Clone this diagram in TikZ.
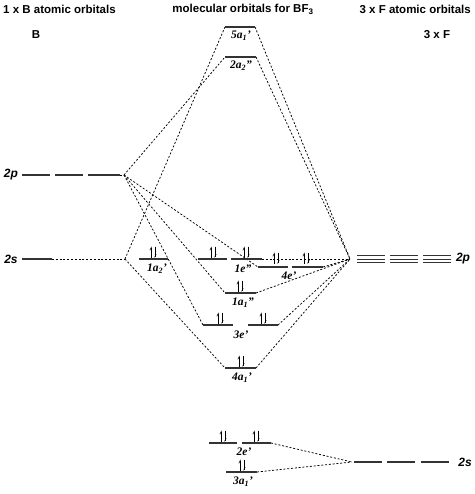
\documentclass[tikz,border=0pt]{standalone}
\usepackage{fontspec}
\setmainfont{Liberation Serif}
\setsansfont{Liberation Sans}
\usetikzlibrary{arrows.meta}
\newcommand\mo[3]{#1\textsubscript{#2}#3}
\tikzset{
  level/.style={
    line width=1.1pt,
    black!80
  },
  link/.style={
    line width=0.75pt,
    dash pattern=on 2pt off 1.8pt
  },
  head/.style={
    font=\sffamily\bfseries\fontsize{11.5}{13}\selectfont,
    inner sep=0pt
  },
  aolabel/.style={
    font=\sffamily\bfseries\itshape\fontsize{12}{14}\selectfont,
    inner sep=0pt
  },
  molabel/.style={
    font=\bfseries\itshape\fontsize{11.5}{13}\selectfont,
    inner sep=0pt
  },
}
\tikzset{
  pics/pair/.style={
    code = {
      \draw[line width=0.6pt,-{Straight Barb[left,length=2.6pt,width=2.8pt]}] (-1.8,-1) -- (-1.8,-12.5);
      \draw[line width=0.6pt,-{Straight Barb[left,length=2.6pt,width=2.8pt]}] (1.8,-12.5) -- (1.8,-1);
    }
  }
}

\begin{document}
\begin{tikzpicture}[x=1pt,y=-1pt]
  \useasboundingbox (0,0) rectangle (474,494);

  % headings
  \node[head,anchor=west] (tB) at (3,9) {1 x B atomic orbitals};
  \node[head] (tMO) at (243,9) {molecular orbitals for BF\textsubscript{3}};
  \node[head,anchor=east] (tF) at (471,9) {3 x F atomic orbitals};
  \node[head] (lB) at (36,35) {B};
  \node[head] (lF) at (437,35) {3 x F};

  % B atomic orbitals
  \node[aolabel] (Bplab) at (11,175) {2p};
  \node[aolabel] (Bslab) at (11,259) {2s};
  \foreach \xa/\xb in {22/50,55/83,88/120}
    \draw[level] (\xa,175) -- (\xb,175);
  \draw[level] (22,259) -- (52,259);
  \coordinate (Bp) at (124,175);
  \coordinate (Bs) at (125,259);
  \draw[link] (120,175) -- (Bp);
  \draw[link] (52,259) -- (Bs);

  % F atomic orbitals
  \node[aolabel] (Fplab) at (463,259) {2p};
  \node[aolabel] (Fslab) at (465,462) {2s};
  \foreach \xa/\xb in {357/385,390/418,423/451}
    \foreach \dy in {-3.5,0,3.5}
      \draw[level,line width=0.8pt] (\xa,{259+\dy}) -- (\xb,{259+\dy});
  \foreach \xa/\xb in {354/382,387/415,421/449}
    \draw[level] (\xa,462) -- (\xb,462);
  \coordinate (Fp) at (350,259);
  \coordinate (Fs) at (352,462);

  % molecular orbitals
  \coordinate (a5l) at (225,27);   \coordinate (a5r) at (255,27);
  \coordinate (b2l) at (225,57);   \coordinate (b2r) at (256,57);
  \coordinate (c1l) at (139,259);  \coordinate (c1r) at (168,259);
  \coordinate (d1l) at (198,259);  \coordinate (d1m) at (227,259);
  \coordinate (d1n) at (231,259);  \coordinate (d1r) at (262,259);
  \coordinate (e4l) at (258,267);  \coordinate (e4m) at (288,267);
  \coordinate (e4n) at (292,267);  \coordinate (e4r) at (323,267);
  \coordinate (f1l) at (225,293);  \coordinate (f1r) at (256,293);
  \coordinate (g3l) at (203,325);  \coordinate (g3m) at (233,325);
  \coordinate (g3n) at (248,325);  \coordinate (g3r) at (278,325);
  \coordinate (h4l) at (225,368);  \coordinate (h4r) at (256,368);
  \coordinate (i2l) at (209,443);  \coordinate (i2m) at (237,443);
  \coordinate (i2n) at (242,443);  \coordinate (i2r) at (271,443);
  \coordinate (j3l) at (226,472);  \coordinate (j3r) at (257,472);

  % links B -> MO
  \draw[link] (Bp) -- (b2l);
  \draw[link] (Bp) -- (e4l);
  \draw[link] (Bp) -- (f1l);
  \draw[link] (Bp) -- (g3l);
  \draw[link] (Bs) -- (a5l);
  \draw[link] (Bs) -- (h4l);

  % links F -> MO
  \draw[link] (a5r) -- (Fp);
  \draw[link] (b2r) -- (Fp);
  \draw[link] (d1r) -- (Fp);
  \draw[link] (e4r) -- (Fp);
  \draw[link] (f1r) -- (Fp);
  \draw[link] (g3r) -- (Fp);
  \draw[link] (h4r) -- (Fp);
  \draw[link] (i2r) -- (Fs);
  \draw[link] (j3r) -- (Fs);

  % levels
  \draw[level] (a5l) -- (a5r);
  \draw[level] (b2l) -- (b2r);
  \draw[level] (c1l) -- (c1r);
  \draw[level] (d1l) -- (d1m);
  \draw[level] (d1n) -- (d1r);
  \draw[level] (e4l) -- (e4m);
  \draw[level] (e4n) -- (e4r);
  \draw[level] (f1l) -- (f1r);
  \draw[level] (g3l) -- (g3m);
  \draw[level] (g3n) -- (g3r);
  \draw[level] (h4l) -- (h4r);
  \draw[level] (i2l) -- (i2m);
  \draw[level] (i2n) -- (i2r);
  \draw[level] (j3l) -- (j3r);

  % electrons
  \pic at (153,259) {pair};
  \pic at (213,259) {pair};
  \pic at (246,259) {pair};
  \pic at (276,265) {pair};
  \pic at (306,265) {pair};
  \pic at (240,293) {pair};
  \pic at (220,325) {pair};
  \pic at (263,325) {pair};
  \pic at (241,368) {pair};
  \pic at (223,443) {pair};
  \pic at (256,443) {pair};
  \pic at (242,472) {pair};

  % MO labels
  \node[molabel] (a5lab) at (241,36) {\mo{5a}{1}{'}};
  \node[molabel] (b2lab) at (241,66) {\mo{2a}{2}{''}};
  \node[molabel] (c1lab) at (157,269) {\mo{1a}{2}{'}};
  \node[molabel] (d1lab) at (243,269) {1e''};
  \node[molabel] (e4lab) at (289,276) {4e'};
  \node[molabel] (f1lab) at (243,303) {\mo{1a}{1}{''}};
  \node[molabel] (g3lab) at (241,335) {3e'};
  \node[molabel] (h4lab) at (242,378) {\mo{4a}{1}{'}};
  \node[molabel] (i2lab) at (244,452) {2e'};
  \node[molabel] (j3lab) at (243,482) {\mo{3a}{1}{'}};
\end{tikzpicture}
\end{document}
